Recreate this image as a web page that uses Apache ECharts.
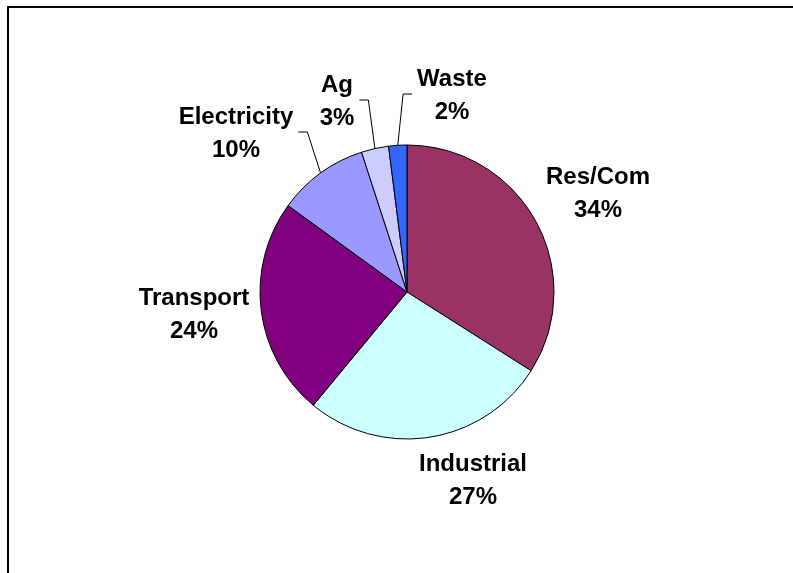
<!DOCTYPE html>
<html>
<head>
<meta charset="utf-8">
<script src="https://cdn.jsdelivr.net/npm/echarts@6/dist/echarts.min.js"></script>
<style>
  html, body { margin: 0; padding: 0; background: #ffffff; }
  #chart { width: 793px; height: 573px; }
</style>
</head>
<body>
<div id="chart"></div>
<script>
// Emissions share by sector
const sectors = ['Res/Com', 'Industrial', 'Transport', 'Electricity', 'Ag', 'Waste'];
const shares = [34, 27, 24, 10, 3, 2];

// Presentation
const sliceColors = ['#993366', '#CCFFFF', '#800080', '#9999FF', '#CCCCFF', '#3366FF'];
const labelCentres = [[598, 194], [473, 481], [194, 315], [236, 134], [337, 102], [452, 96]];
const withLeader = [false, false, false, true, true, true];

const PIE_CX = 407, PIE_CY = 292, PIE_R = 147;
const total = shares.reduce((a, b) => a + b, 0);

// mid angle of slice i, clockwise from 12 o'clock, in radians
function midAngle(i) {
  let before = 0;
  for (let k = 0; k < i; k++) before += shares[k];
  return (before + shares[i] / 2) / total * 2 * Math.PI;
}

const chart = echarts.init(document.getElementById('chart'), null, { renderer: 'canvas' });

chart.setOption({
  animation: false,
  backgroundColor: '#ffffff',
  graphic: [{
    type: 'rect',
    silent: true,
    shape: { x: 8, y: 7, width: 1200, height: 1200 },
    style: { fill: 'none', stroke: '#000000', lineWidth: 2 },
    z: -1
  }],
  series: [{
    type: 'pie',
    center: [PIE_CX, PIE_CY],
    radius: PIE_R,
    startAngle: 90,
    clockwise: true,
    avoidLabelOverlap: false,
    emphasis: { disabled: true },
    itemStyle: { borderColor: '#000000', borderWidth: 1 },
    label: {
      show: true,
      position: 'outside',
      formatter: '{b}\n{d}%',
      color: '#000000',
      fontFamily: '"Liberation Sans", Arial, sans-serif',
      fontWeight: 'bold',
      fontSize: 24,
      lineHeight: 33
    },
    labelLine: {
      show: true,
      smooth: false,
      lineStyle: { color: '#000000', width: 1 }
    },
    labelLayout: function (p) {
      const i = p.dataIndex;
      const c = labelCentres[i];
      const out = { x: c[0], y: c[1], align: 'center', verticalAlign: 'middle' };
      if (withLeader[i]) {
        const a = midAngle(i);
        const ex = PIE_CX + PIE_R * Math.sin(a);
        const ey = PIE_CY - PIE_R * Math.cos(a);
        const half = p.labelRect.width / 2;
        const side = ex > c[0] ? 1 : -1;
        const endX = c[0] + side * (half + 5);
        const cornerX = endX + side * 9;
        const ly = c[1] - 2;
        out.labelLinePoints = [[ex, ey], [cornerX, ly], [endX, ly]];
      }
      return out;
    },
    data: sectors.map((name, i) => ({
      name: name,
      value: shares[i],
      itemStyle: { color: sliceColors[i] },
      labelLine: { show: withLeader[i] }
    }))
  }]
});
</script>
</body>
</html>
